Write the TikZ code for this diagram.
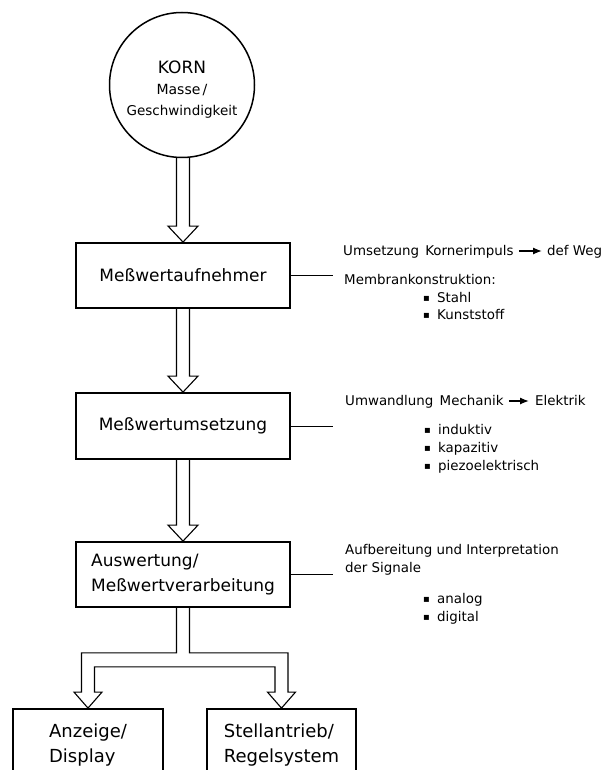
\documentclass[tikz,border=0pt]{standalone}
\usepackage{fontspec}
\setmainfont{DejaVu Sans}
\usetikzlibrary{calc,arrows.meta}
\newcommand\harrowx[2]{%
  \draw[hol] ($(#2 |- #1)+(-6.5,0)$) -- ($(#2)+(-6.5,-16)$) -- ($(#2)+(-15,-16)$)
    -- (#2) -- ($(#2)+(15,-16)$) -- ($(#2)+(6.5,-16)$) -- ($(#2 |- #1)+(6.5,0)$);}
\newcommand\bulletx{\makebox[14pt][l]{\raisebox{1pt}{\fontsize{10}{10}\selectfont ▪}}}
\begin{document}
\begin{tikzpicture}[x=1pt,y=-1pt,
  box/.style={draw, line width=1.8pt, minimum width=214pt, inner sep=0pt,
    font=\fontsize{17}{25}\selectfont, align=center},
  hol/.style={draw, line width=1.1pt, line join=miter},
  link/.style={draw, line width=1pt},
  txt/.style={inner sep=0pt, anchor=base west, font=\fontsize{13.4}{18}\selectfont},
  tarr/.style={line width=1.3pt, -{Latex[length=9pt,width=7pt]}}]
\useasboundingbox (0,0) rectangle (615,770);
\fill[white] (0,0) rectangle (615,770);
\clip (0,0) rectangle (615,770);

% circle
\node[circle, draw, line width=1.5pt, minimum size=145pt, inner sep=0pt, align=center,
  font=\fontsize{14}{21}\selectfont] (korn) at (182,85)
  {{\fontsize{17}{21}\selectfont\rule{0pt}{21.2pt}KORN}\\Masse\,/\\{\fontsize{13.5}{21}\selectfont Geschwindigkeit}};

% main boxes
\node[box, minimum height=65pt] (b1) at (183,275.5) {Meßwertaufnehmer};
\node[box, minimum height=66pt] (b2) at (183,426) {Meßwertumsetzung};
\node[box, minimum height=65pt, align=left] (b3) at (183,574.5) {Auswertung/\\Meßwertverarbeitung};
\node[box, minimum width=150pt, minimum height=72pt, align=left,
  font=\fontsize{18}{25}\selectfont] (b4) at (88,745) {Anzeige/\\Display};
\node[box, minimum width=149pt, minimum height=72pt, align=left,
  font=\fontsize{18}{25}\selectfont] (b5) at (281.5,745) {Stellantrieb/\\Regelsystem};

% hollow arrows
\harrowx{korn.south}{b1.north}
\harrowx{b1.south}{b2.north}
\harrowx{b2.south}{b3.north}

% branching hollow arrow
\coordinate (jl) at ($(b3.south)+(0,52)$);
\draw[hol] ($(b3.south)+(-6.5,0)$) -- ($(b3.south |- jl)+(-6.5,-7)$)
  -- ($(b4.north |- jl)+(-6.5,-7)$) -- ($(b4.north)+(-6.5,-16)$)
  -- ($(b4.north)+(-14,-16)$) -- (b4.north) -- ($(b4.north)+(14,-16)$)
  -- ($(b4.north)+(6.5,-16)$) -- ($(b4.north |- jl)+(6.5,7)$)
  -- ($(b5.north |- jl)+(-6.5,7)$) -- ($(b5.north)+(-6.5,-16)$)
  -- ($(b5.north)+(-14,-16)$) -- (b5.north) -- ($(b5.north)+(14,-16)$)
  -- ($(b5.north)+(6.5,-16)$) -- ($(b5.north |- jl)+(6.5,-7)$)
  -- ($(b3.south |- jl)+(6.5,-7)$) -- ($(b3.south)+(6.5,0)$);

% side connectors
\coordinate (ex) at (333,0);
\draw[link] (b1.east) -- (b1.east -| ex);
\draw[link] (b2.east) -- (b2.east -| ex);
\draw[link] (b3.east) -- (b3.east -| ex);

% side texts 1
\node[txt] (u1) at (343,255) {Umsetzung\hspace{2pt} Kornerimpuls};
\node[txt] (u2) at (547,255) {def Weg};
\draw[tarr] ($(u1.base east)+(5,-4)$) -- ($(u2.base west)+(-5,-4)$);
\node[txt] (m1) at (344,284) {Membrankonstruktion:};
\node[txt] (s1) at (423,302) {\bulletx Stahl};
\node[txt] (s2) at (423,319) {\bulletx Kunststoff};

% side texts 2
\node[txt] (w1) at (345,405) {Umwandlung\hspace{2pt} Mechanik};
\node[txt] (w2) at (535,405) {Elektrik};
\draw[tarr] ($(w1.base east)+(5,-4)$) -- ($(w2.base west)+(-6,-4)$);
\node[txt] (i1) at (424,434) {\bulletx induktiv};
\node[txt] (i2) at (424,452) {\bulletx kapazitiv};
\node[txt] (i3) at (424,470) {\bulletx piezoelektrisch};

% side texts 3
\node[txt] (a1) at (345,554) {Aufbereitung und Interpretation};
\node[txt] (a2) at (345,572) {der Signale};
\node[txt] (d1) at (423,603) {\bulletx analog};
\node[txt] (d2) at (423,621) {\bulletx digital};
\end{tikzpicture}
\end{document}
